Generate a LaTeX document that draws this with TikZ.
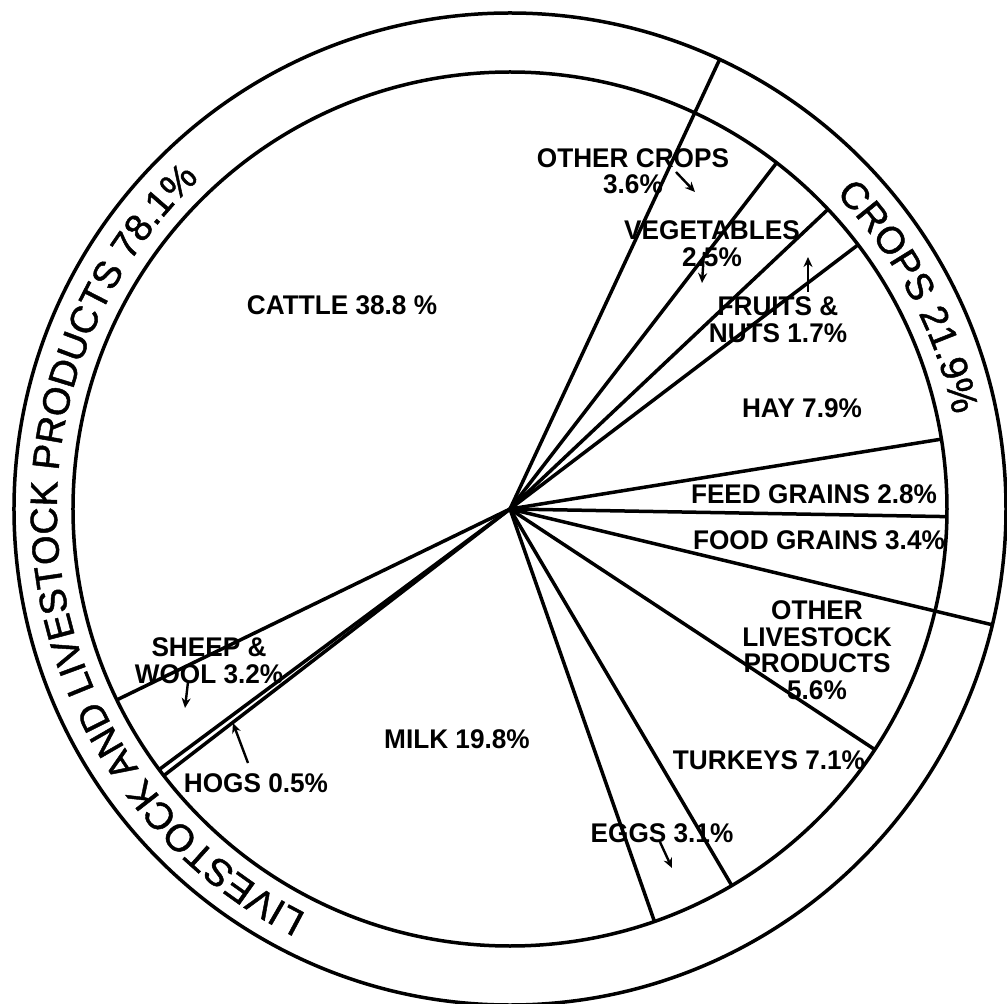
\documentclass[tikz,border=0pt]{standalone}
\usepackage{fontspec}
\setmainfont{Liberation Sans}
\newfontfamily\labfont{Liberation Sans}[FakeStretch=0.97]
\newfontfamily\ringfont{Liberation Sans}[FakeBold=1.2]
\usetikzlibrary{decorations.text,arrows.meta}
\begin{document}
\begin{tikzpicture}[x=1pt,y=1pt,
  rim/.style={line width=3.5pt},
  ray/.style={line width=3.5pt},
  lab/.style={font=\labfont\bfseries\fontsize{27}{26.5}\selectfont, align=center, inner sep=0pt},
  ptr/.style={line width=2.4pt, -{Stealth[length=10pt,width=9pt]}}
]
\fill[white] (-510,-495) rectangle (497,509);
\useasboundingbox (-510,-495) rectangle (497,509);
\coordinate (O) at (0,0);
% circles
\draw[rim] (O) circle[radius=496];
\draw[rim] (O) circle[radius=437];
% ring dividers
\draw[ray] (O) -- (65.0:496);
\draw[ray] (O) -- (-13.5:496);
% slice dividers
\foreach \a in {52.4,43.3,37.2,9.2,-1.0,-33.4,-59.5,-70.7,-142.4,-143.4,-154.1}
  \draw[ray] (O) -- (\a:437);
% ring texts
\path[decorate, decoration={text along path, text align=center,
  text={|\ringfont\fontsize{38}{40}\selectfont|LIVESTOCK AND LIVESTOCK PRODUCTS 78.1{\%}}}]
  (251.3:453) arc[start angle=251.3, end angle=125.3, radius=453];
\path[decorate, decoration={text along path, text align=center,
  text={|\ringfont\fontsize{38}{40}\selectfont|CROPS 21.9{\%}}}]
  (46:453) arc[start angle=46, end angle=10, radius=453];
% labels
\node[lab] (cattle) at (-168,204) {CATTLE 38.8 \%};
\node[lab] (othercrops) at (123,338) {OTHER CROPS\\3.6\%};
\node[lab] (veg) at (202,265.5) {VEGETABLES\\2.5\%};
\node[lab] (fruits) at (268,189.5) {FRUITS \&\\NUTS 1.7\%};
\node[lab] (hay) at (292,101) {HAY 7.9\%};
\node[lab] (feed) at (304,15) {FEED GRAINS 2.8\%};
\node[lab] (food) at (309,-31) {FOOD GRAINS 3.4\%};
\node[lab] (otherls) at (307,-141) {OTHER\\LIVESTOCK\\PRODUCTS\\5.6\%};
\node[lab] (turkeys) at (259,-251) {TURKEYS 7.1\%};
\node[lab] (eggs) at (152,-324) {EGGS 3.1\%};
\node[lab] (milk) at (-53,-230) {MILK 19.8\%};
\node[lab] (hogs) at (-254,-274) {HOGS 0.5\%};
\node[lab] (sheep) at (-301,-151.5) {SHEEP \&\\WOOL 3.2\%};
% pointer arrows
\coordinate (ocA) at (166,337);   \coordinate (ocB) at (185,317);
\coordinate (vgA) at (194,257);   \coordinate (vgB) at (192,226);
\coordinate (frA) at (298,217);   \coordinate (frB) at (298,252);
\coordinate (egA) at (150,-333);  \coordinate (egB) at (162,-359);
\coordinate (hgA) at (-262,-254); \coordinate (hgB) at (-277,-214);
\coordinate (shA) at (-322,-173); \coordinate (shB) at (-325,-199);
\draw[ptr] (ocA) -- (ocB);
\draw[ptr] (vgA) -- (vgB);
\draw[ptr] (frA) -- (frB);
\draw[ptr] (egA) -- (egB);
\draw[ptr] (hgA) -- (hgB);
\draw[ptr] (shA) -- (shB);
\end{tikzpicture}
\end{document}
